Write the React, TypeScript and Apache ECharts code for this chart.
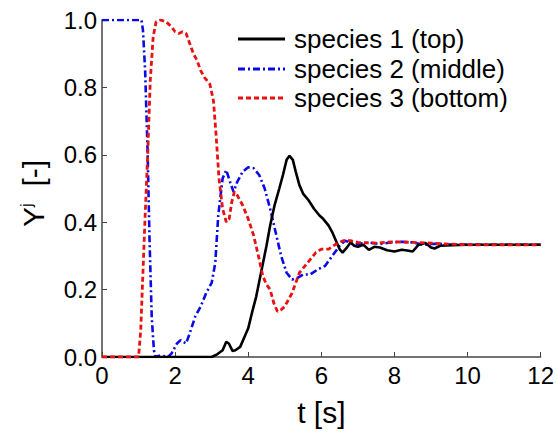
import React, { useEffect, useRef } from "react";
import * as echarts from "echarts";

const xTicks = [0, 2, 4, 6, 8, 10, 12];
const yTicks = [0, 0.2, 0.4, 0.6, 0.8, 1.0];

const seriesNames = ["species 1 (top)", "species 2 (middle)", "species 3 (bottom)"];

const species1: [number, number][] = [
  [0, 0], [3.0, 0], [3.15, 0.008], [3.3, 0.02], [3.4, 0.045], [3.47, 0.04], [3.57, 0.018],
  [3.65, 0.02], [3.78, 0.03], [3.9, 0.06], [4.0, 0.085], [4.1, 0.13], [4.22, 0.18],
  [4.35, 0.25], [4.5, 0.33], [4.6, 0.39], [4.72, 0.45], [4.85, 0.5], [4.95, 0.54],
  [5.05, 0.585], [5.13, 0.597], [5.22, 0.585], [5.3, 0.55], [5.4, 0.51], [5.5, 0.485],
  [5.65, 0.465], [5.8, 0.44], [5.95, 0.42], [6.05, 0.41], [6.2, 0.39], [6.3, 0.37],
  [6.4, 0.345], [6.5, 0.32], [6.58, 0.31], [6.68, 0.322], [6.8, 0.34], [6.9, 0.33],
  [7.0, 0.327], [7.15, 0.333], [7.3, 0.318], [7.45, 0.327], [7.6, 0.325], [7.8, 0.317],
  [8.0, 0.313], [8.2, 0.318], [8.35, 0.316], [8.5, 0.313], [8.65, 0.332], [8.85, 0.338],
  [9.0, 0.325], [9.1, 0.322], [9.25, 0.33], [9.6, 0.332], [10, 0.333], [12, 0.333],
];

const species2: [number, number][] = [
  [0, 1], [1.08, 1], [1.12, 0.97], [1.18, 0.85], [1.25, 0.6], [1.3, 0.35], [1.36, 0.12],
  [1.42, 0.02], [1.46, 0], [1.6, 0.005], [1.8, 0.0], [1.9, 0.01], [2.05, 0.04], [2.15, 0.05],
  [2.3, 0.04], [2.4, 0.07], [2.55, 0.12], [2.7, 0.15], [2.85, 0.19], [3.0, 0.22], [3.1, 0.28],
  [3.18, 0.42], [3.3, 0.53], [3.4, 0.555], [3.5, 0.52], [3.6, 0.49], [3.7, 0.52], [3.85, 0.55],
  [4.0, 0.563], [4.15, 0.56], [4.3, 0.54], [4.45, 0.5], [4.6, 0.44], [4.75, 0.37], [4.9, 0.3],
  [5.05, 0.25], [5.2, 0.23], [5.35, 0.235], [5.5, 0.245], [5.7, 0.245], [5.9, 0.26],
  [6.1, 0.27], [6.3, 0.3], [6.5, 0.33], [6.65, 0.345], [6.8, 0.34], [7.0, 0.335], [7.3, 0.34],
  [7.6, 0.335], [7.9, 0.34], [8.2, 0.342], [8.5, 0.34], [8.8, 0.333], [9.1, 0.336],
  [9.5, 0.334], [10, 0.333], [12, 0.333],
];

const species3: [number, number][] = [
  [0, 0], [1.0, 0], [1.06, 0.08], [1.12, 0.25], [1.18, 0.42], [1.25, 0.6], [1.32, 0.82],
  [1.4, 0.95], [1.48, 0.995], [1.6, 1.0], [1.75, 0.995], [1.9, 0.98], [2.0, 0.965], [2.1, 0.96],
  [2.2, 0.965], [2.3, 0.96], [2.4, 0.93], [2.5, 0.9], [2.6, 0.88], [2.7, 0.85], [2.8, 0.83],
  [2.95, 0.81], [3.05, 0.76], [3.12, 0.66], [3.2, 0.53], [3.3, 0.44], [3.4, 0.4], [3.48, 0.41],
  [3.55, 0.46], [3.62, 0.49], [3.7, 0.48], [3.85, 0.45], [4.0, 0.41], [4.15, 0.36], [4.3, 0.29],
  [4.4, 0.24], [4.5, 0.215], [4.6, 0.2], [4.7, 0.16], [4.8, 0.135], [4.9, 0.14], [5.0, 0.15],
  [5.1, 0.17], [5.2, 0.19], [5.3, 0.22], [5.4, 0.25], [5.55, 0.27], [5.7, 0.29], [5.85, 0.31],
  [6.0, 0.32], [6.2, 0.32], [6.4, 0.335], [6.6, 0.345], [6.8, 0.345], [7.0, 0.34],
  [7.5, 0.338], [8.0, 0.342], [8.5, 0.34], [9.0, 0.338], [9.5, 0.335], [10, 0.333], [12, 0.333],
];

const FONT = "Liberation Sans, Arial, Helvetica, sans-serif";

const lineStyles = [
  { color: "#000000", width: 2.6, dash: null as number[] | null },
  { color: "#0a0ae6", width: 2.6, dash: [7, 3, 2, 3] },
  { color: "#e81010", width: 2.8, dash: [5, 3] },
];

export default function App() {
  const ref = useRef<HTMLDivElement>(null);
  useEffect(() => {
    if (!ref.current) return;
    const chart = echarts.init(ref.current, undefined, { renderer: "svg" });
    const axisColor = "#444";
    const legendY = [39, 69, 98];
    const legendGraphics: any[] = [];
    seriesNames.forEach((name, i) => {
      const ls = lineStyles[i];
      legendGraphics.push({
        type: "line",
        shape: { x1: 238, y1: legendY[i], x2: 285, y2: legendY[i] },
        style: { stroke: ls.color, lineWidth: 3, lineDash: ls.dash || undefined },
        silent: true,
      });
      legendGraphics.push({
        type: "text",
        x: 294,
        y: legendY[i],
        style: {
          text: name,
          fontFamily: FONT,
          fontSize: 26,
          fill: "#000",
          verticalAlign: "middle",
          align: "left",
        },
        silent: true,
      });
    });
    const mkSeries = (i: number, data: [number, number][], z: number) => ({
      name: seriesNames[i],
      type: "line",
      data,
      showSymbol: false,
      symbol: "none",
      lineStyle: {
        color: lineStyles[i].color,
        width: lineStyles[i].width,
        type: lineStyles[i].dash || "solid",
      },
      itemStyle: { color: lineStyles[i].color },
      z,
    });
    chart.setOption({
      animation: false,
      backgroundColor: "#fff",
      grid: { left: 102, right: 15, top: 20, bottom: 75 },
      graphic: legendGraphics,
      xAxis: {
        type: "value",
        min: xTicks[0],
        max: xTicks[xTicks.length - 1],
        interval: 2,
        name: "t [s]",
        nameLocation: "middle",
        nameGap: 40,
        nameTextStyle: { fontFamily: FONT, fontSize: 30, color: "#000" },
        axisLine: { show: true, onZero: false, lineStyle: { color: axisColor, width: 1.5 } },
        axisTick: { show: true, inside: true, length: 5, lineStyle: { color: axisColor } },
        axisLabel: { fontFamily: FONT, fontSize: 24, color: "#000", margin: 6 },
        splitLine: { show: false },
      },
      yAxis: {
        type: "value",
        min: yTicks[0],
        max: yTicks[yTicks.length - 1],
        interval: 0.2,
        name: "{y|Y}{s|j}{y|  [-]}",
        nameLocation: "middle",
        nameGap: 54,
        nameRotate: 90,
        nameTextStyle: {
          fontFamily: FONT,
          color: "#000",
          padding: [0, 10, 0, 0],
          rich: {
            y: { fontFamily: FONT, fontSize: 30, color: "#000" },
            s: { fontFamily: FONT, fontSize: 17, color: "#000", verticalAlign: "top", padding: [0, 0, 12, 0] },
          },
        },
        axisLine: { show: true, lineStyle: { color: axisColor, width: 1.5 } },
        axisTick: { show: true, inside: true, length: 5, lineStyle: { color: axisColor } },
        axisLabel: {
          fontFamily: FONT,
          fontSize: 24,
          color: "#000",
          margin: 5,
          formatter: (v: number) => v.toFixed(1),
        },
        splitLine: { show: false },
      },
      series: [mkSeries(0, species1, 3), mkSeries(1, species2, 2), mkSeries(2, species3, 4)],
    });
    return () => chart.dispose();
  }, []);
  return (
    <div
      ref={ref}
      style={{ position: "absolute", left: 0, top: 0, width: 557, height: 432 }}
    />
  );
}
